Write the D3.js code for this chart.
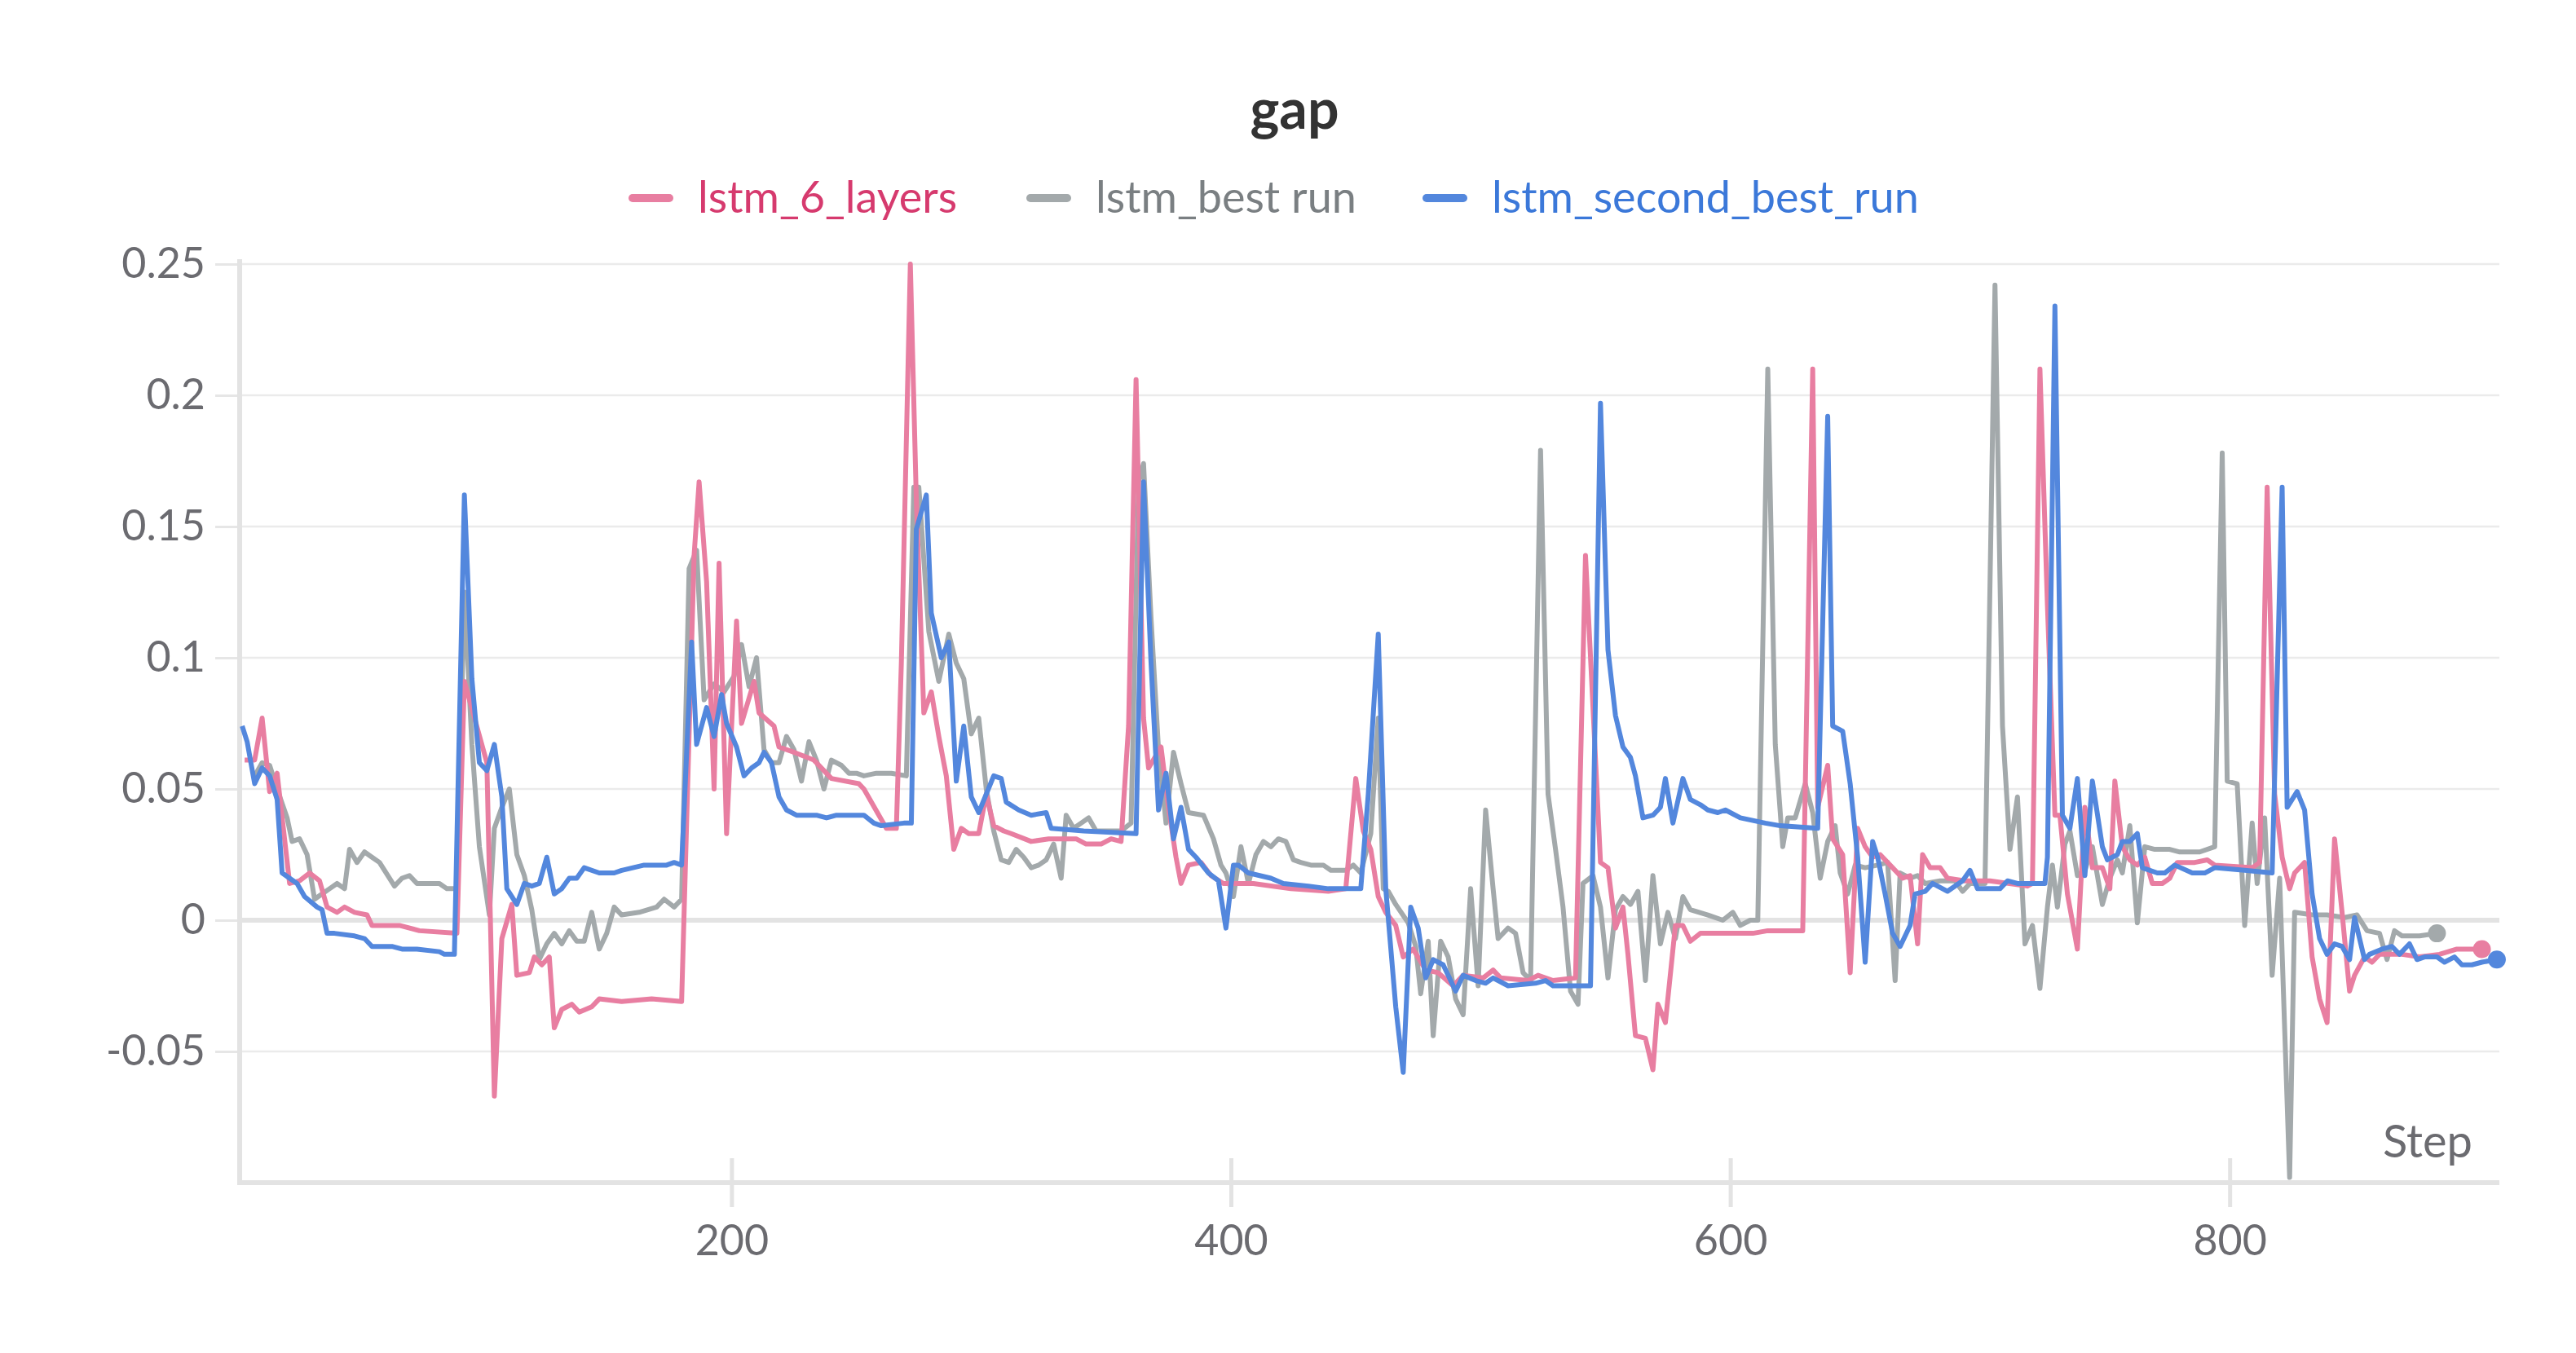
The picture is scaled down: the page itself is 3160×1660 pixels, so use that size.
<!DOCTYPE html>
<html><head><meta charset="utf-8">
<script src="https://cdn.jsdelivr.net/npm/d3@7/dist/d3.min.js"></script>
<style>body{margin:0;background:#fff}svg{display:block}</style>
</head><body><svg id="c" width="3160" height="1660"></svg>
<script>
const seriesNames = ["lstm_6_layers","lstm_best run","lstm_second_best_run"];
const lineColors = ["#e87ea1","#a3a9ab","#5387dd"];
const textColors = ["#d63a6e","#7a7f82","#3b78d9"];
const yTicks = [-0.05,0,0.05,0.1,0.15,0.2,0.25];
const yTickLabels = ["-0.05","0","0.05","0.1","0.15","0.2","0.25"];
const xTicks = [200,400,600,800];

const pink = [[5,.061],[9,.061],[12,.077],[15,.049],[18,.056],[23,.014],[27,.015],[31,.018],[35,.015],[38,.005],[42,.003],[45,.005],[49,.003],[54,.002],[56,-.002],[67,-.002],[75,-.004],[90,-.005],[93,.091],[102,.06],[105,-.067],[108,-.007],[112,.006],[114,-.021],[119,-.02],[121,-.014],[124,-.017],[127,-.014],[129,-.041],[132,-.034],[136,-.032],[139,-.035],[144,-.033],[147,-.03],[156,-.031],[168,-.03],[180,-.031],[185,.139],[187,.167],[190,.129],[193,.05],[195,.136],[198,.033],[202,.114],[204,.075],[209,.091],[211,.079],[217,.074],[219,.066],[225,.064],[233,.061],[240,.054],[251,.052],[253,.05],[262,.035],[266,.035],[268,.098],[271.6,.25],[274,.16],[277,.079],[280,.087],[283,.07],[286,.055],[289,.027],[292,.035],[295,.033],[299,.033],[302,.048],[305,.036],[309,.034],[312,.033],[320,.03],[327,.031],[338,.031],[342,.029],[348,.029],[352,.031],[356,.03],[359,.074],[362,.206],[365,.077],[367,.058],[372,.066],[375,.043],[378,.024],[380,.014],[383,.021],[388,.022],[392,.017],[397,.014],[409,.014],[424,.012],[439,.011],[446,.012],[450,.054],[453,.034],[456,.027],[459,.009],[462,.003],[466,-.002],[469,-.014],[473,-.011],[478,-.019],[483,-.02],[489,-.025],[493,-.021],[501,-.022],[505,-.019],[508,-.022],[519,-.023],[523,-.021],[529,-.023],[538,-.022],[542,.139],[545,.081],[548,.022],[551,.02],[554,-.003],[557,.005],[559,-.013],[562,-.044],[566,-.045],[569,-.057],[571,-.032],[574,-.039],[578,-.002],[581,-.002],[584,-.008],[588,-.005],[594,-.005],[601,-.005],[609,-.005],[615,-.004],[624,-.004],[629,-.004],[633,.21],[635,.043],[639,.059],[641,.031],[645,.025],[648,-.02],[651,.035],[654,.028],[657,.024],[660,.025],[665,.02],[669,.016],[672,.017],[675,-.009],[677,.025],[680,.02],[684,.02],[687,.016],[694,.015],[704,.015],[719,.013],[721,.014],[724,.21],[727,.12],[730,.04],[732,.04],[735,.01],[739,-.011],[742,.043],[745,.02],[749,.02],[752,.012],[754,.053],[757,.028],[760,.023],[763,.021],[766,.024],[769,.014],[773,.014],[776,.016],[779,.022],[786,.022],[791,.023],[794,.021],[809,.02],[812,.022],[815,.165],[818,.048],[821,.024],[824,.012],[826,.018],[830,.022],[833,-.014],[836,-.03],[839,-.039],[842,.031],[845,.003],[848,-.027],[850,-.021],[854,-.014],[857,-.016],[860,-.013],[869,-.013],[876,-.014],[884,-.013],[891,-.011],[901,-.011]];

const gray = [[9,.055],[12,.06],[15,.059],[18,.05],[22,.039],[24,.03],[27,.031],[30,.025],[33,.008],[36,.01],[39,.012],[42,.014],[45,.012],[47,.027],[50,.022],[53,.026],[56,.024],[59,.022],[65,.013],[68,.016],[71,.017],[74,.014],[83,.014],[86,.012],[90,.012],[93,.125],[96,.067],[99,.028],[103,.002],[105,.035],[108,.043],[111,.05],[114,.025],[117,.017],[120,.004],[123,-.015],[126,-.009],[129,-.005],[132,-.009],[135,-.004],[138,-.008],[141,-.008],[144,.003],[147,-.011],[150,-.005],[153,.005],[156,.002],[163,.003],[170,.005],[173,.008],[177,.005],[180,.008],[183,.134],[186,.141],[189,.084],[193,.09],[197,.087],[201,.093],[204,.105],[207,.089],[210,.1],[213,.065],[216,.06],[219,.06],[222,.07],[225,.065],[228,.053],[231,.068],[234,.061],[237,.05],[240,.061],[244,.059],[247,.056],[250,.056],[253,.055],[258,.056],[264,.056],[270,.055],[273,.165],[275,.165],[279,.11],[283,.091],[287,.109],[290,.098],[293,.092],[296,.071],[299,.077],[302,.05],[305,.034],[308,.023],[311,.022],[314,.027],[317,.024],[320,.02],[323,.021],[326,.023],[329,.029],[332,.016],[334,.04],[337,.035],[340,.037],[343,.039],[346,.034],[356,.034],[360,.037],[363,.167],[365,.174],[368,.115],[371,.065],[374,.037],[377,.064],[380,.052],[383,.041],[389,.04],[393,.031],[396,.021],[398,.018],[401,.009],[404,.028],[407,.014],[410,.025],[413,.03],[416,.028],[419,.031],[422,.03],[425,.023],[428,.022],[432,.021],[437,.021],[440,.019],[446,.019],[449,.021],[452,.018],[456,.033],[459,.077],[461,.012],[463,.011],[466,.006],[471,-.001],[474,-.01],[476,-.028],[479,-.008],[481,-.044],[484,-.008],[487,-.014],[490,-.03],[493,-.036],[496,.012],[499,-.025],[502,.042],[505,.012],[507,-.007],[511,-.003],[514,-.005],[517,-.02],[520,-.023],[524,.179],[527,.048],[530,.027],[533,.005],[536,-.027],[539,-.032],[541,.014],[545,.017],[548,.005],[551,-.022],[554,.004],[557,.009],[560,.006],[563,.011],[566,-.023],[569,.017],[572,-.009],[575,.003],[578,-.007],[581,.009],[584,.004],[591,.002],[597,0],[601,.003],[604,-.002],[608,0],[611,0],[615,.21],[618,.067],[621,.028],[623,.039],[626,.039],[630,.052],[633,.041],[636,.016],[639,.03],[642,.036],[644,.018],[647,.01],[650,.021],[654,.02],[659,.021],[663,.022],[666,-.023],[668,.018],[672,.016],[675,.017],[678,.014],[684,.015],[690,.015],[693,.011],[696,.014],[702,.014],[706,.242],[709,.074],[712,.027],[715,.047],[718,-.009],[721,-.002],[724,-.026],[727,.005],[729,.021],[731,.005],[734,.029],[736,.034],[739,.017],[742,.019],[745,.028],[749,.006],[752,.016],[755,.023],[757,.018],[760,.036],[763,-.001],[766,.028],[770,.027],[776,.027],[780,.026],[788,.026],[794,.028],[797,.178],[799,.053],[803,.052],[806,-.002],[809,.037],[811,.014],[814,.039],[817,-.021],[820,.016],[824,-.098],[826,.003],[833,.002],[839,.002],[846,.001],[851,.002],[855,-.004],[860,-.005],[863,-.015],[866,-.004],[869,-.006],[876,-.006],[883,-.005]];

const blue = [[4,.074],[6,.068],[9,.052],[12,.058],[15,.055],[18,.046],[20,.018],[23,.016],[26,.014],[29,.009],[34,.005],[36,.004],[38,-.005],[41,-.005],[49,-.006],[53,-.007],[56,-.01],[64,-.01],[68,-.011],[74,-.011],[83,-.012],[85,-.013],[89,-.013],[93,.162],[96,.092],[99,.06],[102,.057],[105,.067],[108,.047],[110,.012],[114,.006],[117,.014],[120,.013],[123,.014],[126,.024],[129,.01],[132,.012],[135,.016],[138,.016],[141,.02],[147,.018],[153,.018],[156,.019],[165,.021],[174,.021],[177,.022],[180,.021],[184,.106],[186,.067],[190,.081],[193,.07],[196,.086],[198,.075],[202,.066],[205,.055],[208,.058],[211,.06],[213,.064],[216,.06],[219,.047],[222,.042],[226,.04],[234,.04],[238,.039],[242,.04],[248,.04],[253,.04],[257,.037],[260,.036],[269,.037],[272,.037],[274,.149],[278,.162],[280,.117],[284,.1],[287,.106],[290,.053],[293,.074],[296,.047],[299,.041],[302,.048],[305,.055],[308,.054],[310,.045],[315,.042],[320,.04],[326,.041],[328,.035],[341,.034],[362,.033],[365,.167],[368,.098],[371,.042],[374,.056],[377,.031],[380,.043],[383,.027],[386,.024],[391,.018],[395,.015],[398,-.003],[401,.021],[403,.021],[407,.018],[416,.016],[421,.014],[431,.013],[439,.012],[452,.012],[455,.048],[459,.109],[462,.012],[466,-.033],[469,-.058],[472,.005],[475,-.003],[478,-.022],[481,-.015],[485,-.017],[490,-.027],[493,-.021],[498,-.023],[502,-.024],[505,-.022],[511,-.025],[522,-.024],[526,-.023],[529,-.025],[537,-.025],[544,-.025],[548,.197],[551,.103],[554,.078],[557,.066],[560,.062],[562,.055],[565,.039],[569,.04],[572,.043],[574,.054],[577,.037],[581,.054],[584,.046],[588,.044],[591,.042],[595,.041],[598,.042],[604,.039],[614,.037],[620,.036],[635,.035],[639,.192],[641,.074],[645,.072],[648,.052],[651,.024],[654,-.016],[657,.03],[659,.024],[662,.01],[665,-.005],[668,-.01],[672,-.002],[674,.01],[678,.011],[681,.014],[687,.011],[693,.015],[696,.019],[699,.012],[708,.012],[711,.015],[715,.014],[726,.014],[727,.024],[730,.234],[733,.04],[736,.035],[739,.054],[742,.017],[745,.053],[749,.028],[751,.023],[755,.025],[757,.03],[760,.03],[763,.033],[765,.02],[771,.018],[774,.018],[778,.021],[785,.018],[790,.018],[794,.02],[806,.019],[817,.018],[821,.165],[823,.043],[827,.049],[830,.042],[833,.01],[836,-.007],[839,-.013],[842,-.009],[845,-.01],[848,-.015],[850,.001],[854,-.015],[856,-.013],[861,-.011],[865,-.01],[868,-.013],[872,-.009],[875,-.015],[878,-.014],[883,-.014],[886,-.016],[890,-.014],[893,-.017],[897,-.017],[901,-.016],[907,-.015]];

const series = [pink, gray, blue];
const font = "'Source Sans Pro', Lato, 'Noto Sans', sans-serif";
const svg = d3.select("#c");
const x = d3.scaleLinear().domain([3, 908]).range([294, 3066]);
const y = d3.scaleLinear().domain([-0.1, 0.25]).range([1451, 324]);

// grid
svg.append("g").selectAll("line").data(yTicks).join("line")
  .attr("x1", 294).attr("x2", 3066).attr("y1", d => y(d)).attr("y2", d => y(d))
  .attr("stroke", d => d === 0 ? "#e3e3e3" : "#ebebeb").attr("stroke-width", d => d === 0 ? 6 : 2.5);

// y axis
const ya = svg.append("g").attr("transform", "translate(294,0)")
  .call(d3.axisLeft(y).tickValues(yTicks).tickFormat((d,i) => yTickLabels[i]).tickSize(30).tickPadding(12));
ya.select(".domain").remove();
ya.selectAll(".tick line").attr("stroke", "#e6e6e6").attr("stroke-width", 3);
ya.selectAll("text").attr("font-family", font).attr("font-size", 52).attr("fill", "#6b6b70");
svg.append("line").attr("x1", 294).attr("x2", 294).attr("y1", 318).attr("y2", 1454).attr("stroke", "#e3e3e3").attr("stroke-width", 6);

// x axis
const xa = svg.append("g").attr("transform", "translate(0,1451)")
  .call(d3.axisBottom(x).tickValues(xTicks).tickSize(30).tickPadding(12));
xa.select(".domain").remove();
xa.selectAll(".tick line").attr("stroke", "#e3e3e3").attr("stroke-width", 5).attr("y1", -30);
xa.selectAll("text").attr("font-family", font).attr("font-size", 52).attr("fill", "#6b6b70").attr("dy", "0.9em");
svg.append("line").attr("x1", 291).attr("x2", 3066).attr("y1", 1451).attr("y2", 1451).attr("stroke", "#e3e3e3").attr("stroke-width", 6);

// lines
const line = d3.line().x(d => x(d[0])).y(d => y(d[1]));
const clip = svg.append("clipPath").attr("id", "cp").append("rect").attr("x", 294).attr("y", 300).attr("width", 2800).attr("height", 1151);
[1, 0, 2].forEach(i => {
  svg.append("path").datum(series[i]).attr("d", line).attr("fill", "none")
    .attr("stroke", lineColors[i]).attr("stroke-width", 6).attr("stroke-linejoin", "round")
    .attr("clip-path", "url(#cp)");
  const last = series[i][series[i].length - 1];
  svg.append("circle").attr("cx", x(last[0])).attr("cy", y(last[1])).attr("r", 11).attr("fill", lineColors[i]);
});

// title
svg.append("text").attr("x", 1588).attr("y", 158).attr("text-anchor", "middle")
  .attr("font-family", font).attr("font-weight", "bold").attr("font-size", 68).attr("fill", "#333").text("gap");

// legend
const legX = [776, 1264, 1750];
seriesNames.forEach((n, i) => {
  svg.append("line").attr("x1", legX[i]).attr("x2", legX[i] + 45).attr("y1", 243).attr("y2", 243)
    .attr("stroke", lineColors[i]).attr("stroke-width", 10).attr("stroke-linecap", "round");
  svg.append("text").attr("x", legX[i] + 80).attr("y", 261).attr("font-family", font).attr("font-size", 54)
    .attr("fill", textColors[i]).text(n);
});

// Step label
svg.append("text").attr("x", 3033).attr("y", 1420).attr("text-anchor", "end")
  .attr("font-family", font).attr("font-size", 56).attr("fill", "#6b6b70").text("Step");
</script></body></html>
